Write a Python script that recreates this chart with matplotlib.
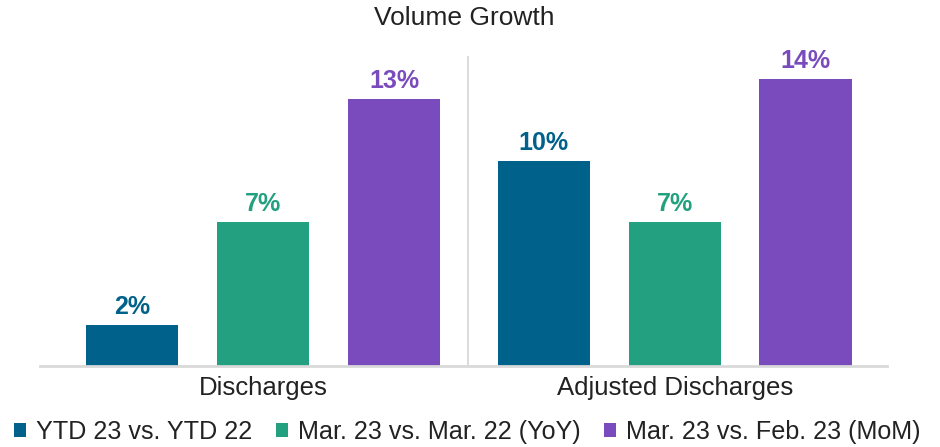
import matplotlib
matplotlib.use("Agg")
import matplotlib.pyplot as plt
from matplotlib.patches import Patch
import numpy as np

categories = ["Discharges", "Adjusted Discharges"]
series_names = ["YTD 23 vs. YTD 22", "Mar. 23 vs. Mar. 22 (YoY)", "Mar. 23 vs. Feb. 23 (MoM)"]
ytd_values = [2, 10]
yoy_values = [7, 7]
mom_values = [13, 14]
colors = ["#00618A", "#22A07F", "#7A4BBD"]
title = "Volume Growth"

plt.rcParams['font.family'] = ['Liberation Sans', 'DejaVu Sans']

fig = plt.figure(figsize=(9.4, 4.47), dpi=100)
ax = fig.add_axes([40/940, 1-366/447, 847/940, 310/447])

x = np.arange(len(categories))
offset = 0.318
width = 0.2236
all_series = [ytd_values, yoy_values, mom_values]
for i, (vals, c) in enumerate(zip(all_series, colors)):
    pos = x + (i - 1) * offset
    bars = ax.bar(pos, vals, width=width, color=c, zorder=2)
    for b, v in zip(bars, vals):
        ax.text(b.get_x() + b.get_width()/2, v + 0.3, f"{v}%", ha='center', va='bottom',
                fontsize=18, fontweight='bold', color=c)

ax.set_xlim(-0.542, 1.516)
ax.set_ylim(0, 15.12)
ax.axvline(0.498, color='#d4d4d4', lw=1.2, zorder=1)
for s in ['top', 'right', 'left']:
    ax.spines[s].set_visible(False)
ax.spines['bottom'].set_color('#d9d9d9')
ax.spines['bottom'].set_linewidth(2)
ax.set_yticks([])
ax.set_xticks(x)
ax.set_xticklabels(categories, fontsize=18.5, color='#222222')
ax.tick_params(axis='x', length=0, pad=7)

fig.text(464/940, 1-18/447, title, ha='center', va='center', fontsize=19, color='#222222')

handles = [Patch(facecolor=c, edgecolor='none') for c in colors]
leg = fig.legend(handles, series_names, loc='center', bbox_to_anchor=(467/940, 1-432/447),
                 ncol=3, frameon=False, fontsize=18.1, handlelength=0.48, handleheight=0.48,
                 handletextpad=0.4, columnspacing=0.93, borderaxespad=0, borderpad=0)
for t in leg.get_texts():
    t.set_color('#222222')

fig.savefig("out.png", dpi=100)
